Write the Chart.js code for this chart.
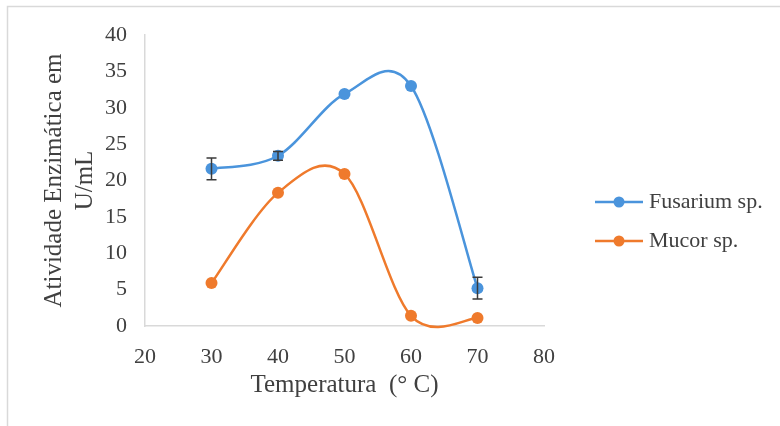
<!DOCTYPE html>
<html>
<head>
<meta charset="utf-8">
<script src="https://cdn.jsdelivr.net/npm/chart.js@4/dist/chart.umd.min.js"></script>
<style>
  html, body { margin: 0; padding: 0; background: #fff; }
  #wrap { width: 780px; height: 426px; position: relative; }
</style>
</head>
<body>
<div id="wrap"><canvas id="tempChart" width="780" height="426"></canvas></div>
<script>
const temps = [30, 40, 50, 60, 70];
const fusarium = [21.6, 23.4, 31.9, 33.0, 5.2];
const fusariumErr = [1.5, 0.6, 0, 0, 1.5];
const mucor = [5.9, 18.3, 20.9, 1.4, 1.1];
const mucorErr = [0, 0, 0, 0, 0];
const xTicks = [20, 30, 40, 50, 60, 70, 80];

const blue = "#4a94dc";
const orange = "#ef7a2c";
const serif = "'Liberation Serif', 'Times New Roman', serif";
const textColor = "#404040";

function toPoints(xs, ys) {
  return xs.map((x, i) => ({ x: x, y: ys[i] }));
}

// outer frame (left + top only)
const framePlugin = {
  id: "frame",
  beforeDraw(chart) {
    const ctx = chart.ctx;
    ctx.save();
    ctx.strokeStyle = "#d9d9d9";
    ctx.lineWidth = 1.5;
    ctx.beginPath();
    ctx.moveTo(7.5, 426);
    ctx.lineTo(7.5, 6.5);
    ctx.lineTo(780, 6.5);
    ctx.stroke();
    ctx.restore();
  },
};

// even catmull-rom style smoothing: control points at 1/6 of neighbour span
const evenSmooth = {
  id: "evenSmooth",
  beforeDatasetDraw(chart, args) {
    const line = args.meta.dataset;
    const pts = args.meta.data;
    line.updateControlPoints(chart.chartArea, "x");
    for (let i = 0; i < pts.length; i++) {
      const prev = pts[i - 1] || pts[i];
      const next = pts[i + 1] || pts[i];
      const dx = (next.x - prev.x) / 6;
      const dy = (next.y - prev.y) / 6;
      pts[i].cp1x = pts[i].x - dx;
      pts[i].cp1y = pts[i].y - dy;
      pts[i].cp2x = pts[i].x + dx;
      pts[i].cp2y = pts[i].y + dy;
    }
  },
};

// vertical error bars with caps
const errorBars = {
  id: "errorBars",
  afterDatasetsDraw(chart) {
    const ctx = chart.ctx;
    const xs = chart.scales.x;
    const ys = chart.scales.y;
    ctx.save();
    ctx.strokeStyle = "#3a3a3a";
    ctx.lineWidth = 1.5;
    chart.data.datasets.forEach((ds) => {
      ds.data.forEach((p, i) => {
        const e = ds.errors[i];
        if (!e) return;
        const px = xs.getPixelForValue(p.x);
        const top = ys.getPixelForValue(p.y + e);
        const bot = ys.getPixelForValue(p.y - e);
        ctx.beginPath();
        ctx.moveTo(px, top);
        ctx.lineTo(px, bot);
        ctx.moveTo(px - 5, top);
        ctx.lineTo(px + 5, top);
        ctx.moveTo(px - 5, bot);
        ctx.lineTo(px + 5, bot);
        ctx.stroke();
      });
    });
    ctx.restore();
  },
};

// legend on the right, line + marker + label
const sideLegend = {
  id: "sideLegend",
  afterDraw(chart) {
    const ctx = chart.ctx;
    ctx.save();
    ctx.font = "22px " + serif;
    ctx.textBaseline = "middle";
    chart.data.datasets.forEach((ds, i) => {
      const y = 202 + i * 39;
      ctx.strokeStyle = ds.borderColor;
      ctx.lineWidth = 2.5;
      ctx.beginPath();
      ctx.moveTo(595, y);
      ctx.lineTo(643, y);
      ctx.stroke();
      ctx.fillStyle = ds.backgroundColor;
      ctx.beginPath();
      ctx.arc(619, y, 5.5, 0, Math.PI * 2);
      ctx.fill();
      ctx.fillStyle = textColor;
      ctx.fillText(ds.label, 649, y);
    });
    ctx.restore();
  },
};

const ctx = document.getElementById("tempChart").getContext("2d");
const tempChart = new Chart(ctx, {
  type: "line",
  data: {
    datasets: [
      {
        label: "Fusarium sp.",
        data: toPoints(temps, fusarium),
        errors: fusariumErr,
        borderColor: blue,
        backgroundColor: blue,
      },
      {
        label: "Mucor sp.",
        data: toPoints(temps, mucor),
        errors: mucorErr,
        borderColor: orange,
        backgroundColor: orange,
      },
    ],
  },
  options: {
    responsive: false,
    animation: false,
    clip: false,
    layout: { padding: { left: 0, top: 35, right: 236, bottom: 0 } },
    elements: {
      line: { borderWidth: 2.5, tension: 0.4 },
      point: { radius: 6, borderWidth: 0, hoverRadius: 6 },
    },
    plugins: {
      legend: { display: false },
      tooltip: { enabled: false },
    },
    scales: {
      x: {
        type: "linear",
        min: 20,
        max: 80,
        afterBuildTicks(scale) {
          scale.ticks = xTicks.map((v) => ({ value: v }));
        },
        afterFit(scale) {
          scale.height = 100;
        },
        grid: { display: false, drawTicks: false },
        border: { color: "#d9d9d9", width: 1.5 },
        ticks: {
          padding: 18,
          color: textColor,
          font: { family: serif, size: 22 },
        },
        title: {
          display: true,
          text: "Temperatura  (° C)",
          color: textColor,
          font: { family: serif, size: 25, lineHeight: 1.1 },
          padding: { top: 0, bottom: 27 },
        },
      },
      y: {
        min: 0,
        max: 40,
        afterFit(scale) {
          scale.width = 145;
        },
        grid: { display: false, drawTicks: false },
        border: { color: "#d9d9d9", width: 1.5 },
        ticks: {
          stepSize: 5,
          padding: 18,
          color: textColor,
          font: { family: serif, size: 22 },
        },
        title: {
          display: true,
          text: ["Atividade Enzimática em", "U/mL"],
          color: textColor,
          font: { family: serif, size: 25, lineHeight: 1.25 },
          padding: { top: 39, bottom: 0 },
        },
      },
    },
  },
  plugins: [framePlugin, evenSmooth, errorBars, sideLegend],
});
</script>
</body>
</html>
